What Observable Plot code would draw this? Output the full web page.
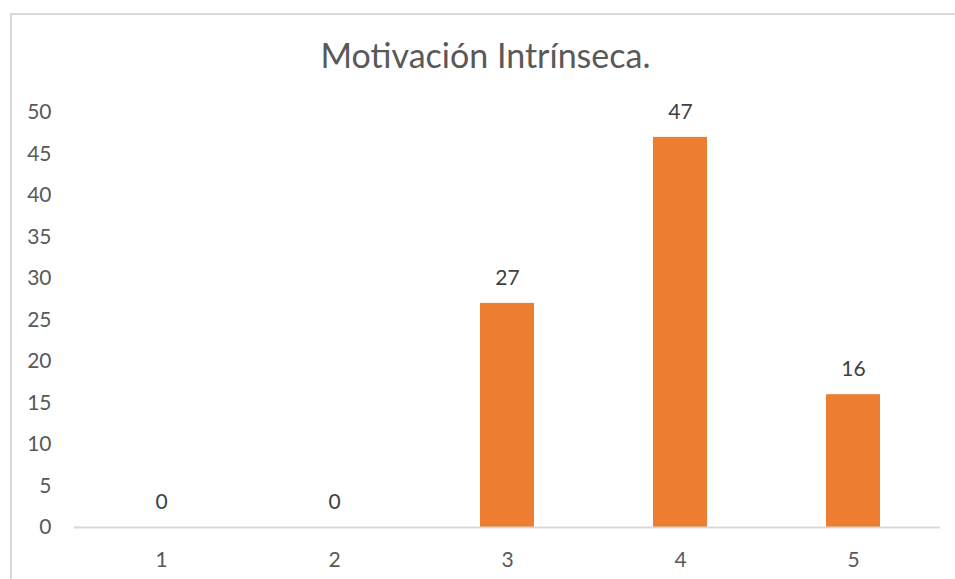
<!DOCTYPE html>
<html>
<head>
<meta charset="utf-8">
<script src="https://cdn.jsdelivr.net/npm/d3@7"></script>
<script src="https://cdn.jsdelivr.net/npm/@observablehq/plot@0.6"></script>
<style>
  html, body { margin: 0; padding: 0; background: #fff; overflow: hidden; width: 955px; height: 579px; }
  #frame { position: absolute; left: 10px; top: 13px; width: 2000px; height: 2000px;
           border-left: 2px solid #d9d9d9; border-top: 2px solid #d9d9d9; box-sizing: border-box; }
  #wrap { position: absolute; left: 0; top: 0; width: 955px; }
  #title { height: 85px; box-sizing: border-box; padding-top: 38px; padding-left: 16px; text-align: center;
           font-family: Lato, "Open Sans", sans-serif; font-size: 34px; line-height: 34px; color: #595959; }
</style>
</head>
<body>
<div id="frame"></div>
<div id="wrap">
  <div id="title">Motivación Intrínseca.</div>
  <div id="chart"></div>
</div>
<script>
const categories = ["1", "2", "3", "4", "5"];
const values = [0, 0, 27, 47, 16];
const yTicks = [0, 5, 10, 15, 20, 25, 30, 35, 40, 45, 50];

const data = categories.map((c, i) => ({ category: c, value: values[i] }));

const chart = Plot.plot({
  width: 955,
  height: 494,
  marginTop: 27,
  marginBottom: 52,
  marginLeft: 74,
  marginRight: 15,
  style: { fontFamily: "Lato, 'Open Sans', sans-serif", fontSize: "21px", color: "#595959", background: "transparent" },
  x: { domain: categories, paddingInner: 0.688, paddingOuter: 0.344, label: null },
  y: { domain: [0, 50], label: null },
  marks: [
    Plot.axisY({ ticks: yTicks, tickSize: 0, tickPadding: 23, label: null, fill: "#595959" }),
    Plot.axisX({ tickSize: 0, tickPadding: 25, label: null, fill: "#595959" }),
    Plot.barY(data, { x: "category", y: "value", fill: "#ED7D31" }),
    Plot.ruleY([0], { stroke: "#d9d9d9", strokeWidth: 2 }),
    Plot.text(data, { x: "category", y: "value", text: d => String(d.value), dy: -25, fill: "#404040", fontSize: 21 })
  ]
});
document.getElementById("chart").appendChild(chart);
</script>
</body>
</html>
